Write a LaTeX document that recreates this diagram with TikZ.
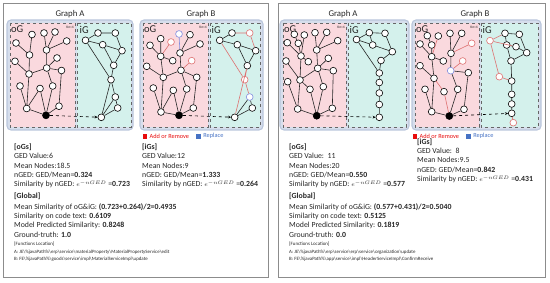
\documentclass[tikz,border=0pt]{standalone}
\usepackage{fontspec}
\setmainfont{Carlito}
\usetikzlibrary{arrows.meta,positioning}
\definecolor{oGfill}{RGB}{250,217,222}
\definecolor{iGfill}{RGB}{212,241,236}
\definecolor{boxfill}{RGB}{214,222,236}
\definecolor{boxline}{RGB}{186,198,220}
\definecolor{addline}{RGB}{222,112,112}
\definecolor{repline}{RGB}{128,140,222}
\definecolor{addkey}{RGB}{232,12,12}
\definecolor{repkey}{RGB}{70,114,196}
\definecolor{inktext}{RGB}{38,38,38}
\newcommand{\fpsep}{\textbackslash}
\newcommand{\expnged}{{\fontsize{6.4}{7}\selectfont$e^{-nGED}$}}
\tikzset{
  gn/.style={circle,draw,fill=white,minimum size=6.8pt,inner sep=0pt,line width=0.6pt},
  gnroot/.style={gn,fill=black,minimum size=7pt},
  gnadd/.style={gn,draw=addline},
  gnrep/.style={gn,draw=repline},
  gedge/.style={draw=black!85,line width=0.6pt},
  eadd/.style={draw=addline,line width=0.6pt},
  erep/.style={draw=repline,line width=0.6pt},
  link/.style={dashed,line width=0.6pt,-{Stealth[length=3pt,width=2.8pt]}},
}

\begin{document}
\begin{tikzpicture}[x=1pt,y=-1pt,
  panel/.style={draw=black!45,line width=0.7pt},
  gbox/.style={fill=boxfill,draw=boxline,line width=1.1pt,rounded corners=4pt},
  oGbox/.style={fill=oGfill,draw=black!60,dashed,line width=0.5pt},
  iGbox/.style={fill=iGfill,draw=black!60,dashed,line width=0.5pt},
  title/.style={font=\fontsize{8.8}{10}\selectfont,text=inktext},
  glabel/.style={anchor=west,inner sep=0pt,font=\fontsize{10.5}{11}\selectfont,text=inktext},
  knlabel/.style={anchor=east,inner sep=0pt,font=\fontsize{3.6}{4}\selectfont,text=inktext},
  block/.style={anchor=north west,inner sep=0pt,align=left,text=inktext,font=\fontsize{7.8}{9.3}\selectfont},
  fnblock/.style={anchor=north west,inner sep=0pt,align=left,text=inktext,font=\fontsize{4.9}{7.3}\selectfont},
  keybox/.style={minimum size=4.6pt,inner sep=0pt},
  keytxt/.style={inner sep=0pt,font=\fontsize{6.3}{7}\selectfont},
  ]
\useasboundingbox (0,0) rectangle (550,283);

% panels and graph boxes
\draw[panel] (3,3) rectangle (268,277);
\draw[panel] (278,3) rectangle (545,277);
\draw[gbox] (7,20) rectangle (133,130);
\draw[oGbox] (10,23) rectangle (75,127);
\draw[iGbox] (77,23) rectangle (131,127);
\draw[gbox] (140,20) rectangle (263,130);
\draw[oGbox] (143,23) rectangle (208,127);
\draw[iGbox] (210,23) rectangle (260,127);
\draw[gbox] (280,20) rectangle (409,130);
\draw[oGbox] (283,23) rectangle (346,127);
\draw[iGbox] (348,23) rectangle (406,127);
\draw[gbox] (412,20) rectangle (541,130);
\draw[oGbox] (415,23) rectangle (479,127);
\draw[iGbox] (481,23) rectangle (538,127);

\node[title] (LAtitle) at (70,14.5) {Graph A};
\node[title] (LBtitle) at (201,14.5) {Graph B};
\node[title] (RAtitle) at (343,14.5) {Graph A};
\node[title] (RBtitle) at (475,14.5) {Graph B};

\node[glabel] (LAoG) at (11,29.5) {oG};
\node[knlabel] (LAkn) at (74,27.5) {Kn=4};
\node[glabel] (LAiG) at (79.5,29.5) {iG};
\node[glabel] (LBoG) at (144,29.5) {oG};
\node[knlabel] (LBkn) at (207,27.5) {Kn=4};
\node[glabel] (LBiG) at (211.5,29.5) {iG};
\node[glabel] (RAoG) at (284,29.5) {oG};
\node[knlabel] (RAkn) at (345,27.5) {Kn=4};
\node[glabel] (RAiG) at (349.5,29.5) {iG};
\node[glabel] (RBoG) at (416,29.5) {oG};
\node[knlabel] (RBkn) at (478,27.5) {Kn=4};
\node[glabel] (RBiG) at (482.5,29.5) {iG};

% left case, Graph A, oG
\node[gn] (LAo1) at (32,34.5) {};
\node[gn] (LAo2) at (44,33) {};
\node[gn] (LAo3) at (55,32) {};
\node[gn] (LAo4) at (16,43) {};
\node[gn] (LAo5) at (66.7,41) {};
\node[gn] (LAo6) at (29.5,55) {};
\node[gn] (LAo7) at (46.5,50) {};
\node[gn] (LAo8) at (15,61.3) {};
\node[gn] (LAo9) at (57,58) {};
\node[gn] (LAo10) at (46.7,68) {};
\node[gn] (LAo11) at (61.5,70.5) {};
\node[gn] (LAo12) at (29,74) {};
\node[gn] (LAo13) at (20,86) {};
\node[gn] (LAo14) at (40,88.5) {};
\node[gn] (LAo15) at (52.7,86) {};
\node[gn] (LAo16) at (26.7,108.5) {};
\node[gn] (LAo17) at (59,106.2) {};
\node[gnroot] (LAor) at (46,115.3) {};
\draw[gedge] (LAo6) -- (LAo1) (LAo6) -- (LAo4) (LAo7) -- (LAo2) (LAo7) -- (LAo3) (LAo7) -- (LAo5)
  (LAo12) -- (LAo6) (LAo12) -- (LAo8) (LAo12) -- (LAo10) (LAo10) -- (LAo7) (LAo10) -- (LAo9)
  (LAo10) -- (LAo11) (LAo12) -- (LAo16) (LAo13) -- (LAo16) (LAo14) -- (LAo16) (LAo14) -- (LAor)
  (LAo10) -- (LAo15) (LAo15) -- (LAor) (LAo11) -- (LAo17) (LAo17) -- (LAor) (LAo16) -- (LAor);

% left case, Graph A, iG
\node[gn] (LAi1) at (98,33) {};
\node[gn] (LAi2) at (115.3,33) {};
\node[gn] (LAi3) at (85.5,40.3) {};
\node[gn] (LAi4) at (102.7,44.7) {};
\node[gn] (LAi5) at (122,50.7) {};
\node[gn] (LAi6) at (113.7,65.3) {};
\node[gn] (LAi7) at (111,79.7) {};
\node[gn] (LAi8) at (115.3,97) {};
\node[gn] (LAi9) at (117.7,108) {};
\node[gn] (LAi10) at (101.3,117.3) {};
\draw[gedge] (LAi1) -- (LAi2) (LAi3) -- (LAi1) (LAi3) -- (LAi4) (LAi4) -- (LAi5) (LAi2) -- (LAi5)
  (LAi4) -- (LAi6) (LAi5) -- (LAi6) (LAi3) -- (LAi7) (LAi6) -- (LAi7) (LAi7) -- (LAi8)
  (LAi7) -- (LAi10) (LAi8) -- (LAi10) (LAi8) -- (LAi9) (LAi9) -- (LAi10);
\draw[link] (LAor) -- (LAi10);

% left case, Graph B, oG
\node[gn] (LBo1) at (160.7,38.7) {};
\node[gnadd] (LBo2) at (171,42) {};
\node[gnrep] (LBo3) at (179,34) {};
\node[gn] (LBo4) at (190,34.7) {};
\node[gn] (LBo5) at (200,44) {};
\node[gn] (LBo6) at (150,45.3) {};
\node[gn] (LBo7) at (160.7,56.3) {};
\node[gn] (LBo8) at (180,53) {};
\node[gn] (LBo9) at (172.7,60.7) {};
\node[gnadd] (LBo10) at (191.7,60.7) {};
\node[gn] (LBo11) at (146.7,66.3) {};
\node[gn] (LBo12) at (181,70.3) {};
\node[gn] (LBo13) at (163.3,77.3) {};
\node[gn] (LBo14) at (196.7,77.3) {};
\node[gn] (LBo15) at (153.3,88) {};
\node[gn] (LBo16) at (173.3,90.3) {};
\node[gn] (LBo17) at (186.7,89) {};
\node[gn] (LBo18) at (161,112) {};
\node[gn] (LBo19) at (193.3,108) {};
\node[gnroot] (LBor) at (179,115.3) {};
\draw[gedge] (LBo7) -- (LBo1) (LBo7) -- (LBo6) (LBo7) -- (LBo9) (LBo8) -- (LBo4) (LBo8) -- (LBo5)
  (LBo13) -- (LBo7) (LBo13) -- (LBo11) (LBo13) -- (LBo12) (LBo12) -- (LBo8) (LBo12) -- (LBo14)
  (LBo13) -- (LBo18) (LBo15) -- (LBo18) (LBo16) -- (LBo18) (LBo16) -- (LBor) (LBo17) -- (LBor)
  (LBo12) -- (LBo17) (LBo14) -- (LBo19) (LBo19) -- (LBor) (LBo18) -- (LBor);
\draw[eadd] (LBo7) -- (LBo2) (LBo12) -- (LBo10);
\draw[erep] (LBo8) -- (LBo3);

% left case, Graph B, iG
\node[gn] (LBi1) at (232,33) {};
\node[gnadd] (LBi2) at (249.7,33) {};
\node[gn] (LBi3) at (219.7,40.3) {};
\node[gn] (LBi4) at (237.3,44.7) {};
\node[gn] (LBi5) at (255.7,50.7) {};
\node[gn] (LBi6) at (247.3,65.7) {};
\node[gnadd] (LBi7) at (244.7,79.7) {};
\node[gnrep] (LBi8) at (249.7,97) {};
\node[gn] (LBi9) at (252.3,108) {};
\node[gn] (LBi10) at (234.7,117.3) {};
\draw[gedge] (LBi3) -- (LBi1) (LBi3) -- (LBi4) (LBi4) -- (LBi5) (LBi4) -- (LBi6) (LBi5) -- (LBi6)
  (LBi8) -- (LBi9) (LBi9) -- (LBi10) (LBi8) -- (LBi10);
\draw[eadd] (LBi1) -- (LBi2) (LBi2) -- (LBi5) (LBi3) -- (LBi7) (LBi6) -- (LBi7) (LBi7) -- (LBi8)
  (LBi6) -- (LBi10);
\draw[link] (LBor) -- (LBi10);

% right case, Graph A, oG
\node[gn] (RAo1) at (294.3,34.3) {};
\node[gn] (RAo2) at (304.3,35) {};
\node[gn] (RAo3) at (315,32.7) {};
\node[gn] (RAo4) at (326.7,32.3) {};
\node[gn] (RAo5) at (287.3,42.7) {};
\node[gn] (RAo6) at (298.3,43.3) {};
\node[gn] (RAo7) at (337.7,40.7) {};
\node[gn] (RAo8) at (316.7,50) {};
\node[gn] (RAo9) at (301,56) {};
\node[gn] (RAo10) at (308.3,61.7) {};
\node[gn] (RAo11) at (328.3,58.3) {};
\node[gn] (RAo12) at (286,61) {};
\node[gn] (RAo13) at (317.7,68.3) {};
\node[gn] (RAo14) at (333.3,70.7) {};
\node[gn] (RAo15) at (300,80) {};
\node[gn] (RAo16) at (287.7,81.7) {};
\node[gn] (RAo17) at (310,89.3) {};
\node[gn] (RAo18) at (323.3,86.7) {};
\node[gn] (RAo19) at (297.7,109) {};
\node[gn] (RAo20) at (332.3,108.3) {};
\node[gnroot] (RAor) at (316.7,115.7) {};
\draw[gedge] (RAo6) -- (RAo1) (RAo9) -- (RAo6) (RAo9) -- (RAo2) (RAo9) -- (RAo5) (RAo9) -- (RAo10)
  (RAo8) -- (RAo3) (RAo8) -- (RAo4) (RAo8) -- (RAo7) (RAo13) -- (RAo8) (RAo13) -- (RAo11)
  (RAo13) -- (RAo14) (RAo15) -- (RAo13) (RAo15) -- (RAo9) (RAo15) -- (RAo12) (RAo15) -- (RAo17)
  (RAo15) -- (RAo19) (RAo16) -- (RAo19) (RAo17) -- (RAor) (RAo13) -- (RAo18) (RAo18) -- (RAor)
  (RAo14) -- (RAo20) (RAo20) -- (RAor) (RAo19) -- (RAor);

% right case, Graph A, iG
\node[gn] (RAi1) at (356.5,39.5) {};
\node[gn] (RAi2) at (369.3,32.7) {};
\node[gn] (RAi3) at (385,33.3) {};
\node[gn] (RAi4) at (372.7,45) {};
\node[gn] (RAi5) at (392.3,51.7) {};
\node[gn] (RAi6) at (381,60.5) {};
\node[gn] (RAi7) at (379.3,73) {};
\node[gn] (RAi8) at (379.3,82.5) {};
\node[gn] (RAi9) at (379.3,93) {};
\node[gn] (RAi10) at (379.3,104.5) {};
\node[gn] (RAi11) at (379.3,117.3) {};
\draw[gedge] (RAi1) -- (RAi2) (RAi1) -- (RAi4) (RAi2) -- (RAi3) (RAi2) -- (RAi4) (RAi4) -- (RAi5)
  (RAi3) -- (RAi5) (RAi5) -- (RAi6) (RAi1) -- (RAi7) (RAi6) -- (RAi7) (RAi7) -- (RAi8)
  (RAi8) -- (RAi9) (RAi9) -- (RAi10) (RAi10) -- (RAi11);
\draw[link] (RAor) -- (RAi11);

% right case, Graph B, oG
\node[gn] (RBo1) at (427.3,35.7) {};
\node[gn] (RBo2) at (438.3,36) {};
\node[gn] (RBo3) at (450,33.3) {};
\node[gn] (RBo4) at (461.7,33.3) {};
\node[gn] (RBo5) at (420,44) {};
\node[gn] (RBo6) at (431.7,45) {};
\node[gnadd] (RBo7) at (471.7,43.3) {};
\node[gn] (RBo8) at (451,53.3) {};
\node[gn] (RBo9) at (431.7,56.7) {};
\node[gn] (RBo10) at (443.3,61) {};
\node[gnadd] (RBo11) at (462.7,61) {};
\node[gn] (RBo12) at (420,65.7) {};
\node[gnrep] (RBo13) at (450.7,70.7) {};
\node[gn] (RBo14) at (468.3,72.7) {};
\node[gn] (RBo15) at (434,78.3) {};
\node[gn] (RBo16) at (425,89.3) {};
\node[gn] (RBo17) at (444,91.7) {};
\node[gn] (RBo18) at (457.7,89.3) {};
\node[gn] (RBo19) at (431.7,111.7) {};
\node[gn] (RBo20) at (464,109.3) {};
\node[gnroot] (RBor) at (449.3,116) {};
\draw[gedge] (RBo6) -- (RBo1) (RBo9) -- (RBo6) (RBo9) -- (RBo5) (RBo9) -- (RBo10) (RBo8) -- (RBo3)
  (RBo8) -- (RBo4) (RBo8) -- (RBo13) (RBo13) -- (RBo14) (RBo15) -- (RBo9) (RBo15) -- (RBo12)
  (RBo15) -- (RBo19) (RBo16) -- (RBo19) (RBo13) -- (RBo18) (RBo18) -- (RBor) (RBo14) -- (RBo20)
  (RBo20) -- (RBor) (RBo19) -- (RBor);
\draw[eadd] (RBo9) -- (RBo2) (RBo8) -- (RBo7) (RBo13) -- (RBo11) (RBo15) -- (RBo17) (RBo17) -- (RBor);

% right case, Graph B, iG
\node[gnadd] (RBi1) at (490,40.7) {};
\node[gn] (RBi2) at (505,33.3) {};
\node[gn] (RBi3) at (519.3,34.3) {};
\node[gn] (RBi4) at (506.7,45) {};
\node[gn] (RBi5) at (516,46.7) {};
\node[gn] (RBi6) at (526.7,52.7) {};
\node[gn] (RBi7) at (511,61) {};
\node[gnadd] (RBi8) at (499.3,76.7) {};
\node[gn] (RBi9) at (511.7,81) {};
\node[gn] (RBi10) at (511.7,94.3) {};
\node[gn] (RBi11) at (511.7,104) {};
\node[gn] (RBi12) at (511.7,113.3) {};
\node[gnadd] (RBi13) at (513.3,122.7) {};
\draw[gedge] (RBi2) -- (RBi3) (RBi2) -- (RBi4) (RBi4) -- (RBi5) (RBi3) -- (RBi6) (RBi5) -- (RBi6)
  (RBi4) -- (RBi7) (RBi6) -- (RBi7) (RBi7) -- (RBi9) (RBi9) -- (RBi10) (RBi10) -- (RBi11)
  (RBi11) -- (RBi12);
\draw[eadd] (RBi1) -- (RBi2) (RBi1) -- (RBi5) (RBi1) -- (RBi8) (RBi8) -- (RBi9) (RBi12) -- (RBi13);
\draw[link] (RBor) -- (RBi12);

% legends
\node[keybox,fill=addkey] (LaddKey) at (145,136.3) {};
\node[keytxt,text=addkey,right=2pt of LaddKey] (LaddTxt) {Add or Remove};
\node[keybox,fill=repkey,right=7pt of LaddTxt] (LrepKey) {};
\node[keytxt,text=repkey,right=2pt of LrepKey] (LrepTxt) {Replace};
\node[keybox,fill=addkey] (RaddKey) at (415,136.3) {};
\node[keytxt,text=addkey,right=2pt of RaddKey] (RaddTxt) {Add or Remove};
\node[keybox,fill=repkey,right=7pt of RaddTxt] (RrepKey) {};
\node[keytxt,text=repkey,right=2pt of RrepKey] (RrepTxt) {Replace};

% text, left case
\node[block] (LoGs) at (14,143.7) {\textbf{[oGs]}\\GED Value:6\\Mean Nodes:18.5\\nGED: GED/Mean=\textbf{0.324}\\
  Similarity by nGED: \expnged\ =\textbf{0.723}};
\node[block] (LiGs) at (142,143.7) {\textbf{[iGs]}\\GED Value:12\\Mean Nodes:9\\nGED: GED/Mean=\textbf{1.333}\\
  Similarity by nGED: \expnged\ =\textbf{0.264}};
\node[block] (Lglobal) at (14,192.7) {\textbf{[Global]}\\[1.5pt]Mean Similarity of oG\&iG: \textbf{(0.723+0.264)/2=0.4935}\\
  Similarity on code text: \textbf{0.6109}\\Model Predicted Similarity: \textbf{0.8248}\\Ground-truth: \textbf{1.0}};
\node[fnblock] (Lfunc) at (14,242) {[Functions Location]\\
  A: JE\fpsep\%javaPath\%\fpsep erp\fpsep service\fpsep materialProperty\fpsep MaterialPropertyService\fpsep edit\\
  B: FE\fpsep\%javaPath\%\fpsep goods\fpsep service\fpsep impl\fpsep MaterialServiceImpl\fpsep update};

% text, right case
\node[block] (RoGs) at (289,143.7) {\textbf{[oGs]}\\GED Value:~~11\\Mean Nodes:20\\nGED: GED/Mean=\textbf{0.550}\\
  Similarity by nGED: \expnged\ =\textbf{0.577}};
\node[block] (RiGs) at (417,138.5) {\textbf{[iGs]}\\GED Value:~~8\\Mean Nodes:9.5\\nGED: GED/Mean=\textbf{0.842}\\
  Similarity by nGED: \expnged\ =\textbf{0.431}};
\node[block] (Rglobal) at (289,192.7) {\textbf{[Global]}\\[1.5pt]Mean Similarity of oG\&iG: \textbf{(0.577+0.431)/2=0.5040}\\
  Similarity on code text: \textbf{0.5125}\\Model Predicted Similarity: \textbf{0.1819}\\Ground-truth: \textbf{0.0}};
\node[fnblock] (Rfunc) at (289,242) {[Functions Location]\\
  A: JE\fpsep\%javaPath\%\fpsep erp\fpsep service\fpsep erp\fpsep service\fpsep organization\fpsep update\\
  B: FE\fpsep\%javaPath\%\fpsep app\fpsep service\fpsep impl\fpsep HeaderServiceImpl\fpsep ConfirmReceive};
\end{tikzpicture}
\end{document}
